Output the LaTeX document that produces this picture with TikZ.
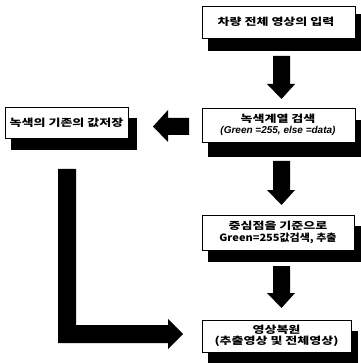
\documentclass[tikz,border=0pt]{standalone}
\usepackage{fontspec}
\newfontfamily\kr{Noto Sans CJK KR}[FakeStretch=1.3]
\newfontfamily\krl{Noto Sans CJK KR}[FakeStretch=1.1]
\newfontfamily\lat{Liberation Sans}
\begin{document}
\begin{tikzpicture}[x=1pt,y=-1pt,
  boxst/.style={draw=black,line width=0.8pt,fill=white},
  shadowst/.style={fill=black},
  arrowst/.style={fill=black},
  txt/.style={font=\kr\bfseries\fontsize{10}{12.5}\selectfont,align=center,inner sep=0pt}]
\useasboundingbox (0,0) rectangle (360,363);
% shadows
\fill[shadowst] (208,14) rectangle (362,51);
\fill[shadowst] (208,120) rectangle (362,157);
\fill[shadowst] (11,118) rectangle (137,150);
\fill[shadowst] (208,226) rectangle (361,262);
\fill[shadowst] (208,331) rectangle (358,363);
% boxes
\draw[boxst] (202,6) rectangle (355,38);
\node[txt] (b1) at (276,22) {차량 전체 영상의 입력};
\draw[boxst] (202,108) rectangle (355,142);
\node[txt] (b2) at (278,125) {녹색계열 검색\\[-1pt]{\lat\bfseries\itshape\fontsize{10}{12.5}\selectfont (Green =255, else =data)}};
\draw[boxst] (5,107) rectangle (128,138);
\node[txt] (b3) at (66.5,122.5) {녹색의 기존의 값저장};
\draw[boxst] (202,215) rectangle (354,250);
\node[txt] (b4) at (278,232.5) {중심점을 기준으로\\[-1pt]{\krl\bfseries\fontsize{10}{12.5}\selectfont Green=255값검색, 추출}};
\draw[boxst] (202,320) rectangle (351,352);
\node[txt] (b5) at (276.5,336) {영상복원\\[-1pt](추출영상 및 전체영상)};
% down arrows
\fill[arrowst] (273,56) -- (290,56) -- (290,84) -- (295,84) -- (281.5,99) -- (267,84) -- (273,84) -- cycle;
\fill[arrowst] (273,161) -- (290,161) -- (290,190) -- (295,190) -- (281.5,205) -- (267,190) -- (273,190) -- cycle;
\fill[arrowst] (273,266) -- (290,266) -- (290,293) -- (295,293) -- (281.5,308) -- (267,293) -- (273,293) -- cycle;
% left arrow
\fill[arrowst] (189,118) -- (189,135) -- (168,135) -- (168,142) -- (153,126.5) -- (168,110) -- (168,118) -- cycle;
% L arrow
\fill[arrowst] (58,169) -- (76,169) -- (76,325) -- (168,325) -- (168,319) -- (183,334) -- (168,349) -- (168,343) -- (58,343) -- cycle;
\end{tikzpicture}
\end{document}
